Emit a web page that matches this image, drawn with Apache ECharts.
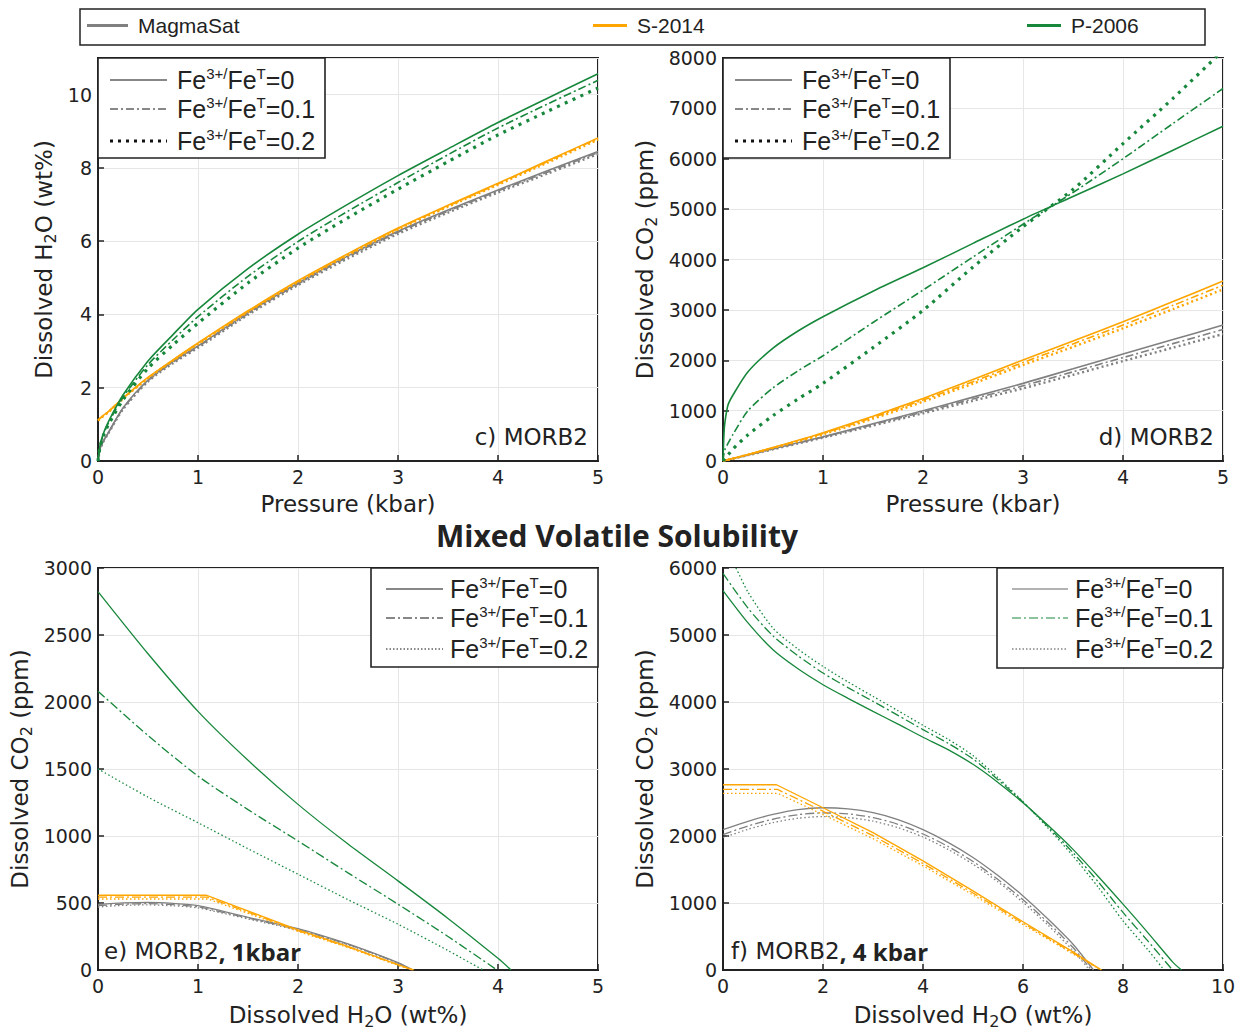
<!DOCTYPE html>
<html>
<head>
<meta charset="utf-8">
<script src="https://cdn.jsdelivr.net/npm/echarts/dist/echarts.min.js"></script>
<style>
html,body{margin:0;padding:0;background:#fff}
#chart{width:1244px;height:1030px}
</style>
</head>
<body>
<div id="chart"></div>
<script>
// ---------- data ----------
const MODELS = ['MagmaSat', 'S-2014', 'P-2006'];
const RATIO_LABELS = ['Fe{sup|3+/}Fe{sup|T}=0', 'Fe{sup|3+/}Fe{sup|T}=0.1', 'Fe{sup|3+/}Fe{sup|T}=0.2'];

// c) dissolved H2O (wt%) vs pressure (kbar)
const pressureC = [0, 0.02, 0.05, 0.1, 0.25, 0.5, 0.75, 1, 1.5, 2, 2.5, 3, 3.5, 4, 4.5, 5];
const h2oP2006_0 = [0, 0.42, 0.72, 1.05, 1.80, 2.73, 3.45, 4.14, 5.25, 6.19, 7.01, 7.79, 8.52, 9.24, 9.91, 10.57];
const h2oP2006_1 = [0, 0.40, 0.69, 1.01, 1.74, 2.63, 3.31, 3.94, 5.04, 5.99, 6.82, 7.60, 8.36, 9.09, 9.75, 10.39];
const h2oP2006_2 = [0, 0.38, 0.66, 0.97, 1.67, 2.53, 3.17, 3.76, 4.86, 5.81, 6.64, 7.42, 8.17, 8.90, 9.55, 10.18];
const h2oS2014_0 = [1.12, 1.17, 1.24, 1.34, 1.72, 2.28, 2.76, 3.22, 4.10, 4.92, 5.66, 6.36, 6.98, 7.58, 8.20, 8.82];
const h2oS2014_1 = [1.11, 1.16, 1.23, 1.33, 1.71, 2.27, 2.75, 3.21, 4.08, 4.90, 5.64, 6.34, 6.96, 7.56, 8.18, 8.80];
const h2oS2014_2 = [1.10, 1.15, 1.22, 1.32, 1.70, 2.26, 2.74, 3.19, 4.07, 4.88, 5.62, 6.32, 6.94, 7.54, 8.15, 8.77];
const h2oMS_0 = [0, 0.33, 0.53, 0.76, 1.45, 2.21, 2.72, 3.14, 4.05, 4.86, 5.60, 6.27, 6.85, 7.40, 7.93, 8.45];
const h2oMS_1 = [0, 0.32, 0.52, 0.75, 1.43, 2.19, 2.70, 3.12, 4.02, 4.83, 5.57, 6.24, 6.82, 7.37, 7.89, 8.42];
const h2oMS_2 = [0, 0.31, 0.51, 0.74, 1.41, 2.17, 2.67, 3.09, 3.99, 4.80, 5.53, 6.20, 6.78, 7.33, 7.85, 8.38];

// d) dissolved CO2 (ppm) vs pressure (kbar)
const pressureD = [0, 0.01, 0.02, 0.05, 0.1, 0.25, 0.5, 0.75, 1, 1.5, 2, 2.5, 3, 3.5, 4, 4.5, 5];
const co2P2006_0 = [0, 550, 780, 1110, 1310, 1772, 2240, 2580, 2864, 3370, 3836, 4320, 4800, 5250, 5700, 6170, 6647];
const co2P2006_1 = [0, 150, 230, 350, 530, 1000, 1450, 1790, 2090, 2750, 3393, 4050, 4700, 5330, 6000, 6700, 7394];
const co2P2006_2 = [0, 25, 50, 120, 240, 520, 900, 1230, 1541, 2250, 2990, 3850, 4650, 5390, 6300, 7200, 8150];
const co2S2014_0 = [0, 5, 10, 26, 52, 130, 270, 410, 562, 890, 1243, 1620, 2004, 2380, 2765, 3165, 3571];
const co2S2014_1 = [0, 5, 10, 25, 50, 127, 265, 400, 545, 865, 1210, 1575, 1955, 2325, 2700, 3090, 3490];
const co2S2014_2 = [0, 5, 10, 25, 49, 124, 258, 390, 529, 840, 1177, 1535, 1905, 2265, 2633, 3015, 3406];
const co2MS_0 = [0, 5, 10, 24, 48, 121, 245, 362, 483, 740, 999, 1268, 1541, 1830, 2123, 2410, 2698];
const co2MS_1 = [0, 5, 9, 24, 47, 119, 238, 355, 473, 722, 972, 1232, 1492, 1770, 2053, 2330, 2610];
const co2MS_2 = [0, 5, 9, 23, 46, 116, 232, 347, 463, 703, 946, 1195, 1442, 1710, 1984, 2250, 2520];

// e) mixed volatile saturation at 1 kbar: [H2O wt%, CO2 ppm]
const mix1P2006_0 = [[0,2824],[0.5,2360],[1,1930],[1.5,1565],[2,1236],[2.5,940],[3,665],[3.5,385],[4,87],[4.13,0]];
const mix1P2006_1 = [[0,2080],[0.5,1750],[1,1447],[1.5,1197],[2,963],[2.5,725],[3,491],[3.5,250],[3.99,0]];
const mix1P2006_2 = [[0,1501],[0.5,1290],[1,1099],[1.5,905],[2,715],[2.5,525],[3,342],[3.5,145],[3.85,0]];
const mix1S2014_0 = [[0,558],[1.08,558],[2,300],[2.5,176],[3,40],[3.16,0]];
const mix1S2014_1 = [[0,544],[1.09,544],[2,294],[2.5,172],[3,38],[3.15,0]];
const mix1S2014_2 = [[0,530],[1.1,530],[2,288],[2.5,168],[3,35],[3.14,0]];
const mix1MS_0 = [[0,490],[0.25,501],[0.5,505],[0.75,497],[1,480],[1.5,393],[2,308],[2.5,195],[2.75,128],[3,55],[3.15,0]];
const mix1MS_1 = [[0,480],[0.25,491],[0.5,495],[0.75,488],[1,471],[1.5,387],[2,302],[2.5,191],[2.75,125],[3,52],[3.14,0]];
const mix1MS_2 = [[0,470],[0.25,482],[0.5,486],[0.75,479],[1,463],[1.5,381],[2,296],[2.5,187],[2.75,122],[3,49],[3.13,0]];

// f) mixed volatile saturation at 4 kbar: [H2O wt%, CO2 ppm]
const mix4P2006_0 = [[0,5662],[0.5,5180],[1,4779],[1.5,4495],[2,4258],[2.5,4055],[3,3861],[3.5,3670],[4,3474],[4.5,3290],[5,3070],[5.5,2800],[6,2496],[6.5,2160],[7,1801],[7.5,1400],[8,983],[8.5,555],[9,114],[9.17,0]];
const mix4P2006_1 = [[0,5920],[0.5,5400],[1,4987],[1.5,4690],[2,4432],[2.5,4215],[3,4010],[3.5,3800],[4,3588],[4.5,3385],[5,3150],[5.5,2840],[6,2506],[6.5,2140],[7,1752],[7.5,1320],[8,859],[8.5,430],[8.99,0]];
const mix4P2006_2 = [[0,6300],[0.25,6010],[0.5,5640],[1,5102],[1.5,4790],[2,4530],[2.5,4300],[3,4084],[3.5,3870],[4,3652],[4.5,3445],[5,3200],[5.5,2870],[6,2512],[6.5,2120],[7,1702],[7.5,1240],[8,734],[8.5,300],[8.82,0]];
const mix4S2014_0 = [[0,2765],[1.07,2765],[2,2422],[3,2050],[4,1628],[5,1181],[6,720],[7,270],[7.57,0]];
const mix4S2014_1 = [[0,2695],[1.09,2695],[2,2370],[3,2005],[4,1590],[5,1150],[6,700],[7,255],[7.56,0]];
const mix4S2014_2 = [[0,2635],[1.1,2635],[2,2320],[3,1960],[4,1555],[5,1120],[6,680],[7,240],[7.55,0]];
const mix4MS_0 = [[0,2095],[0.5,2220],[1,2322],[1.5,2395],[2,2422],[2.5,2405],[3,2348],[3.5,2245],[4,2095],[4.5,1905],[5,1680],[5.5,1410],[6,1106],[6.5,760],[7,385],[7.41,0]];
const mix4MS_1 = [[0,2020],[0.5,2150],[1,2250],[1.5,2318],[2,2345],[2.5,2330],[3,2275],[3.5,2175],[4,2030],[4.5,1845],[5,1620],[5.5,1350],[6,1050],[6.5,710],[7,335],[7.37,0]];
const mix4MS_2 = [[0,1975],[0.5,2100],[1,2200],[1.5,2265],[2,2290],[2.5,2275],[3,2222],[3.5,2125],[4,1985],[4.5,1800],[5,1580],[5.5,1315],[6,1010],[6.5,670],[7,290],[7.33,0]];

// ---------- styles ----------
const COLOR = { 'MagmaSat': '#808080', 'S-2014': '#ffa500', 'P-2006': '#17873b' };
const INK = '#222';
const AXIS_FONT = 'DejaVu Sans';
const LEGEND_FONT = 'Liberation Sans';

const pairs = (xs, ys) => xs.map((x, i) => [x, ys[i]]);

// dash patterns per row of panels; index = Fe3+/FeT ratio (0, 0.1, 0.2)
function topStyle(model, k) {
  if (k === 0) return { width: 1.6, type: 'solid' };
  if (k === 1) return { width: 1.6, type: [8, 3, 2, 3] };
  return model === 'P-2006' ? { width: 3.2, type: [3, 5.5] } : { width: 2.4, type: [2, 3] };
}
function bottomStyle(model, k) {
  if (k === 0) return { width: 1.3, type: 'solid' };
  if (k === 1) return { width: 1.3, type: [9, 3, 2, 3] };
  return { width: 1.3, type: [1.5, 2.5] };
}

function line(model, k, panel, data, styleFn, smooth) {
  const s = styleFn(model, k);
  return {
    type: 'line', name: model, xAxisIndex: panel, yAxisIndex: panel,
    data, symbol: 'none', showSymbol: false, silent: true, clip: true,
    smooth: smooth ? 0.25 : false,
    z: 2 + MODELS.indexOf(model),
    itemStyle: { color: COLOR[model] },
    lineStyle: { color: COLOR[model], width: s.width, type: s.type, cap: 'butt' }
  };
}

const series = [];
// c
[[h2oMS_0, h2oMS_1, h2oMS_2], [h2oS2014_0, h2oS2014_1, h2oS2014_2], [h2oP2006_0, h2oP2006_1, h2oP2006_2]]
  .forEach((set, m) => set.forEach((ys, k) => series.push(line(MODELS[m], k, 0, pairs(pressureC, ys), topStyle, true))));
// d
[[co2MS_0, co2MS_1, co2MS_2], [co2S2014_0, co2S2014_1, co2S2014_2], [co2P2006_0, co2P2006_1, co2P2006_2]]
  .forEach((set, m) => set.forEach((ys, k) => series.push(line(MODELS[m], k, 1, pairs(pressureD, ys), topStyle, true))));
// e
[[mix1MS_0, mix1MS_1, mix1MS_2], [mix1S2014_0, mix1S2014_1, mix1S2014_2], [mix1P2006_0, mix1P2006_1, mix1P2006_2]]
  .forEach((set, m) => set.forEach((d, k) => series.push(line(MODELS[m], k, 2, d, bottomStyle, m !== 1))));
// f
[[mix4MS_0, mix4MS_1, mix4MS_2], [mix4S2014_0, mix4S2014_1, mix4S2014_2], [mix4P2006_0, mix4P2006_1, mix4P2006_2]]
  .forEach((set, m) => set.forEach((d, k) => series.push(line(MODELS[m], k, 3, d, bottomStyle, m !== 1))));

// ---------- layout ----------
const PANELS = [
  { left: 98,  top: 58,  xMax: 5,  xInt: 1, yMax: 11,   yInt: 2,    xName: 'Pressure (kbar)', yName: 'Dissolved H{sub|2}O (wt%)', yGap: 40 },
  { left: 723, top: 58,  xMax: 5,  xInt: 1, yMax: 8000, yInt: 1000, xName: 'Pressure (kbar)', yName: 'Dissolved CO{sub|2} (ppm)', yGap: 64 },
  { left: 98,  top: 568, xMax: 5,  xInt: 1, yMax: 3000, yInt: 500,  xName: 'Dissolved H{sub|2}O (wt%)', yName: 'Dissolved CO{sub|2} (ppm)', yGap: 64 },
  { left: 723, top: 568, xMax: 10, xInt: 2, yMax: 6000, yInt: 1000, xName: 'Dissolved H{sub|2}O (wt%)', yName: 'Dissolved CO{sub|2} (ppm)', yGap: 64 }
];

const nameStyle = {
  fontFamily: AXIS_FONT, fontSize: 23, color: INK,
  rich: { sub: { fontFamily: AXIS_FONT, fontSize: 16, color: INK, padding: [12, 0, 0, 0] } }
};
const tickLabel = { fontFamily: AXIS_FONT, fontSize: 19, color: INK, formatter: v => String(v) };
const axisCommon = {
  type: 'value', min: 0,
  axisLine: { show: true, onZero: false, lineStyle: { color: INK, width: 2 } },
  axisTick: { show: true, inside: true, length: 6, lineStyle: { color: INK, width: 1.5 } },
  splitLine: { show: true, lineStyle: { color: '#e6e6e6', width: 1 } },
  nameLocation: 'middle', nameTextStyle: nameStyle
};

const grid = PANELS.map(p => ({
  left: p.left, top: p.top, width: 500, height: 403,
  show: true, borderColor: INK, borderWidth: 2, backgroundColor: 'transparent'
}));
const xAxis = PANELS.map((p, i) => Object.assign({}, axisCommon, {
  gridIndex: i, max: p.xMax, interval: p.xInt, name: p.xName, nameGap: 31,
  axisLabel: Object.assign({ margin: 6 }, tickLabel)
}));
const yAxis = PANELS.map((p, i) => Object.assign({}, axisCommon, {
  gridIndex: i, max: p.yMax, interval: p.yInt, name: p.yName, nameGap: p.yGap,
  axisLabel: Object.assign({ margin: 6, showMaxLabel: i !== 0 }, tickLabel)
}));

// per-panel line-style key (Fe3+/FeT)
const supRich = { sup: { fontFamily: LEGEND_FONT, fontSize: 15, fill: INK, padding: [0, 0, 13, 0] } };
function keyBox(x, y, w, h, lx1, lx2, tx, rows, styles) {
  const els = [{ type: 'rect', shape: { x, y, width: w, height: h }, style: { fill: '#fff', stroke: INK, lineWidth: 1.6 }, z: 100 }];
  rows.forEach((ry, i) => {
    const s = styles[i];
    els.push({ type: 'line', shape: { x1: lx1, y1: ry, x2: lx2, y2: ry },
      style: { stroke: s.color, lineWidth: s.width, lineDash: s.dash || null }, z: 101 });
    els.push({ type: 'text', x: tx, y: ry, z: 101,
      style: { text: RATIO_LABELS[i], fontFamily: LEGEND_FONT, fontSize: 25, fill: INK, verticalAlign: 'middle', align: 'left', rich: supRich } });
  });
  return els;
}
const keyTop = [{ color: '#111', width: 1 }, { color: '#111', width: 1, dash: [8, 3, 2, 3] }, { color: '#111', width: 3, dash: [3, 5] }];
const keyE = [{ color: '#111', width: 1 }, { color: '#111', width: 1, dash: [9, 3, 2, 3] }, { color: '#111', width: 1, dash: [1.5, 2] }];
const keyF = [{ color: '#666', width: 1.2 }, { color: COLOR['P-2006'], width: 1.2, dash: [9, 3, 2, 3] }, { color: '#444', width: 1, dash: [1.5, 2] }];

const boldRich = { b: { fontFamily: 'Open Sans', fontWeight: 'bold', fontSize: 24, fill: INK } };
const tag = (x, y, text, align) => ({
  type: 'text', x, y, z: 101,
  style: { text, fontFamily: AXIS_FONT, fontSize: 23, fill: INK, align, verticalAlign: 'middle', rich: boldRich }
});

const graphic = [
  { type: 'rect', shape: { x: 80, y: 9, width: 1125, height: 36 }, style: { fill: 'none', stroke: INK, lineWidth: 1.5 }, z: 100 },
  ...keyBox(98, 58, 227, 100, 110, 167, 177, [80, 109, 141], keyTop),
  ...keyBox(723, 58, 227, 100, 735, 792, 802, [80, 109, 141], keyTop),
  ...keyBox(371, 568, 227, 99, 386, 443, 450, [589, 618, 649], keyE),
  ...keyBox(997, 568, 226, 100, 1012, 1068, 1075, [589, 618, 649], keyF),
  tag(588, 437, 'c) MORB2', 'right'),
  tag(1214, 437, 'd) MORB2', 'right'),
  tag(104, 951, 'e) MORB2{b|, 1kbar}', 'left'),
  tag(731, 951, 'f) MORB2{b|, 4 kbar}', 'left')
];

const legendText = { fontFamily: LEGEND_FONT, fontSize: 21, color: INK, padding: [0, 0, 0, 5] };
const legend = [
  { name: 'MagmaSat', left: 87, w: 41 },
  { name: 'S-2014', left: 593, w: 34 },
  { name: 'P-2006', left: 1027, w: 34 }
].map(l => ({
  data: [l.name], left: l.left, top: 15, padding: 0, icon: 'rect',
  itemWidth: l.w, itemHeight: 3, selectedMode: false, textStyle: legendText
}));

const chart = echarts.init(document.getElementById('chart'), null, { renderer: 'svg' });
chart.setOption({
  animation: false,
  backgroundColor: '#fff',
  title: {
    text: 'Mixed Volatile Solubility', left: 617, top: 520, padding: 0, textAlign: 'center',
    textStyle: { fontFamily: 'Open Sans', fontWeight: 'bold', fontSize: 30, lineHeight: 30, color: INK }
  },
  legend, grid, xAxis, yAxis, series, graphic
});
</script>
</body>
</html>
